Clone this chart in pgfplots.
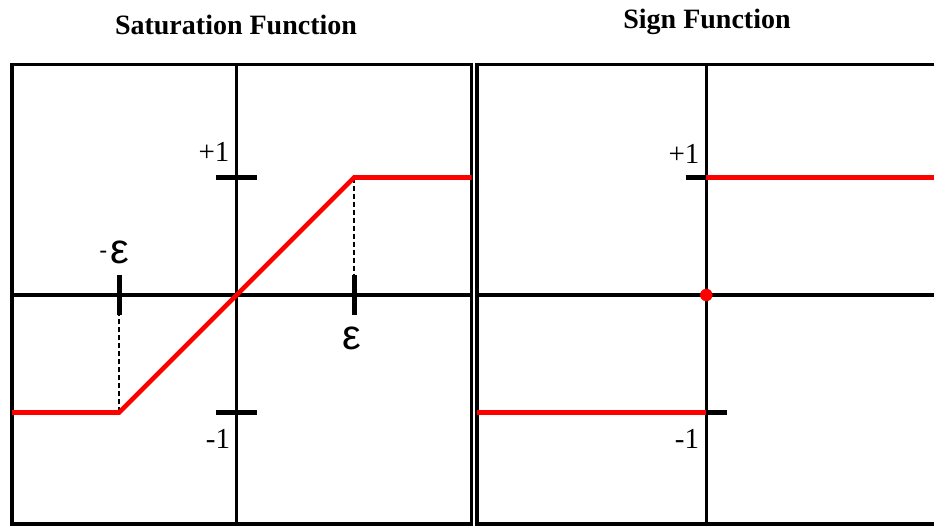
\documentclass[border=0pt]{standalone}
\usepackage{fontspec}
\setmainfont{Liberation Serif}
\newfontfamily\epsfont{Liberation Sans}
\usepackage{pgfplots}
\pgfplotsset{compat=1.18}
\tikzset{numlab/.style={font=\fontsize{29}{29}\selectfont, inner sep=0pt},
  epslab/.style={font=\epsfont\fontsize{42}{42}\selectfont, inner sep=0pt}}
\begin{document}
\begin{tikzpicture}[x=1pt,y=1pt]
\useasboundingbox (0pt,0pt) rectangle (934pt,525pt);
\pgfplotsset{panel/.style={scale only axis, anchor=origin,
  axis line style={line width=3.8pt},
  xtick={0}, ytick={0}, xticklabels={}, yticklabels={},
  major tick length=0pt, grid=major,
  major grid style={black,line width=3.1pt,solid},
  ymin=-1.949, ymax=1.962, height=459.5pt}}
% Left panel
\begin{axis}[panel, at={(236.7pt,230pt)}, width=459.5pt, xmin=-1.912, xmax=1.998]
\addplot[black, line width=1.5pt, dash pattern=on 5pt off 3pt] coordinates {(1,1) (1,0.17)};
\addplot[black, line width=1.5pt, dash pattern=on 5pt off 3pt] coordinates {(-1,-1) (-1,-0.17)};
\addplot[black, line width=5pt] coordinates {(-0.175,1) (0.175,1)};
\addplot[black, line width=5pt] coordinates {(-0.175,-1) (0.175,-1)};
\addplot[black, line width=5pt] coordinates {(1,-0.17) (1,0.17)};
\addplot[black, line width=5pt] coordinates {(-1,-0.17) (-1,0.17)};
\addplot[red, line width=4.6pt] coordinates {(-1.912,-1) (-1,-1) (1,1) (1.998,1)};
\node[numlab] at (axis cs:-0.193,1.217) {+1};
\node[numlab] at (axis cs:-0.159,-1.226) {-1};
\node[font=\epsfont\fontsize{24}{24}\selectfont, inner sep=0pt] at (axis cs:-1.135,0.34) {-};
\node[epslab] at (axis cs:-0.99,0.36) {ε};
\node[epslab] at (axis cs:0.981,-0.37) {ε};
\end{axis}
% Right panel
\begin{axis}[panel, at={(706.3pt,230pt)}, width=459pt, xmin=-1.951, xmax=1.955]
\addplot[black, line width=5pt] coordinates {(-0.175,1) (0,1)};
\addplot[black, line width=5pt] coordinates {(0,-1) (0.175,-1)};
\addplot[red, line width=4.6pt] coordinates {(-1.951,-1) (0,-1)};
\addplot[red, line width=4.6pt] coordinates {(0,1) (1.955,1)};
\addplot[only marks, mark=*, red, mark size=6pt] coordinates {(0,0)};
\node[numlab] at (axis cs:-0.19,1.2) {+1};
\node[numlab] at (axis cs:-0.164,-1.226) {-1};
\end{axis}
\node[font=\bfseries\fontsize{28}{28}\selectfont] at (236pt,500pt) {Saturation Function};
\node[font=\bfseries\fontsize{28}{28}\selectfont] at (707pt,503pt) {Sign Function};
\end{tikzpicture}
\end{document}
